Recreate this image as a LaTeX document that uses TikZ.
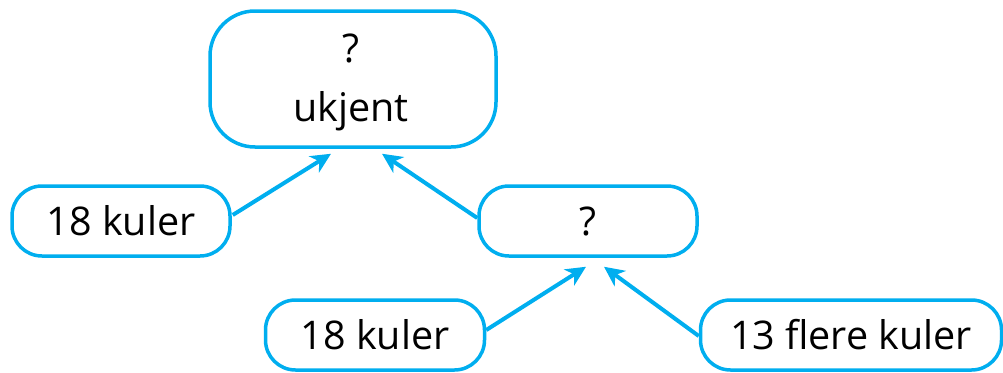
\documentclass[tikz,border=0pt]{standalone}
\usepackage{fontspec}
\setmainfont{Open Sans}
\usetikzlibrary{arrows.meta,calc}
\definecolor{cy}{HTML}{00AEEF}
\tikzset{
  box/.style={draw=cy, line width=3.5pt, rounded corners=30pt, fill=white, inner sep=0pt, font=\fontsize{39.5}{59}\selectfont, text=black},
  conn/.style={draw=cy, line width=4pt, -{Stealth[length=20pt,width=19pt,inset=6pt]}}
}
\begin{document}
\begin{tikzpicture}[x=1pt,y=-1pt]
\useasboundingbox (0,0) rectangle (1003,372);
\node[box, rounded corners=45pt, minimum width=286pt, minimum height=136pt] (top) at (353,79) {};
\node[align=center, inner sep=0pt, font=\fontsize{39.5}{59}\selectfont] (toptext) at (351,82) {?\\ukjent};
\node[box, minimum width=218pt, minimum height=70pt] (l) at (121,221) {18 kuler};
\node[box, minimum width=218pt, minimum height=70pt] (m) at (588,221) {?};
\node[box, minimum width=219pt, minimum height=70pt] (bl) at (375,335) {18 kuler};
\node[box, minimum width=301pt, minimum height=70pt] (br) at (851,335) {13 flere kuler};
\draw[conn] ($(l.east)+(1,-6)$) -- ($(top.south)+(-22,5)$);
\draw[conn] ($(m.west)+(0,-3)$) -- ($(top.south)+(29,5)$);
\draw[conn] ($(bl.east)+(0,-5)$) -- ($(m.south)+(-2,9)$);
\draw[conn] ($(br.west)+(0,1)$) -- ($(m.south)+(16,9)$);
\end{tikzpicture}
\end{document}
